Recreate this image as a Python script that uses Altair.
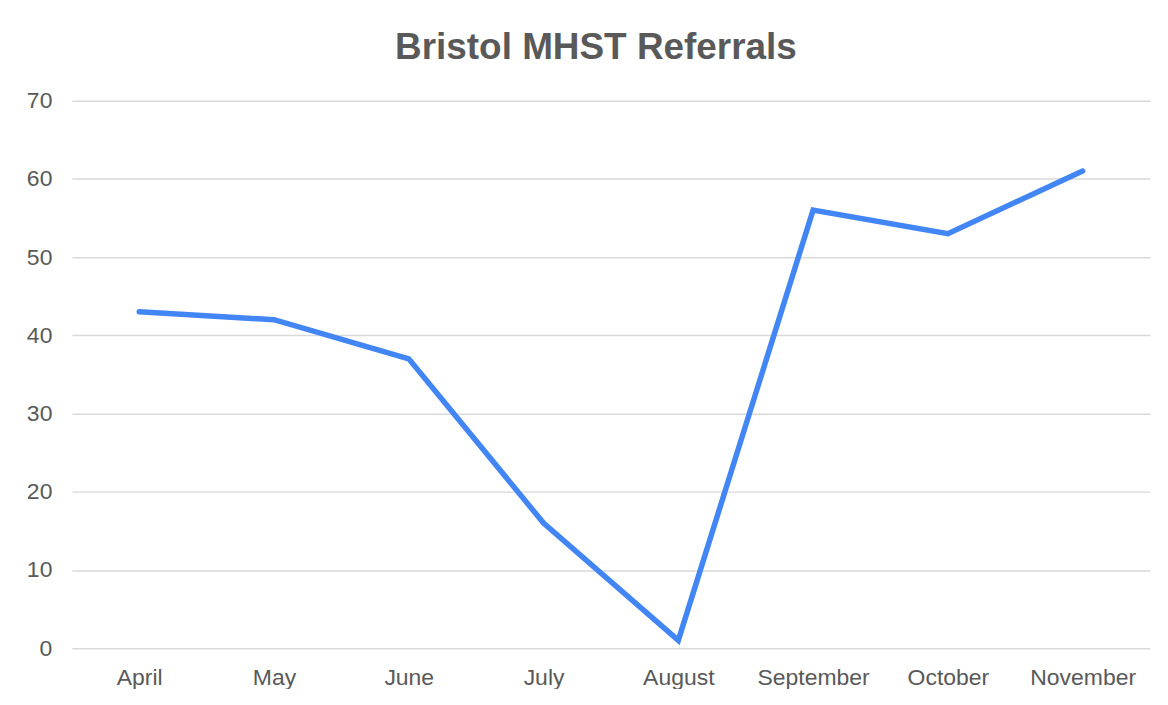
import altair as alt
import pandas as pd

months = ["April", "May", "June", "July", "August", "September", "October", "November"]
referrals = [43, 42, 37, 16, 1, 56, 53, 61]

df = pd.DataFrame({"Month": months, "Referrals": referrals})

chart = alt.Chart(df).mark_line(
    color="#4285F4", strokeWidth=5.5, strokeJoin="miter", strokeCap="round"
).encode(
    x=alt.X("Month:N", sort=months, title=None,
            scale=alt.Scale(type="point", padding=0.5),
            axis=alt.Axis(labelAngle=0, labelFontSize=23, labelColor="#595959",
                          labelFont="Liberation Sans", labelPadding=18,
                          domain=False, ticks=False, grid=False)),
    y=alt.Y("Referrals:Q", title=None,
            scale=alt.Scale(domain=[0, 70]),
            axis=alt.Axis(values=[0, 10, 20, 30, 40, 50, 60, 70],
                          labelFontSize=23, labelColor="#595959",
                          labelFont="Liberation Sans", labelPadding=20,
                          domain=False, ticks=False,
                          gridColor="#d9d9d9", gridWidth=1.5)),
).properties(
    width=1081,
    height=549,
    title=alt.TitleParams("Bristol MHST Referrals", fontSize=37, font="Liberation Sans",
                          fontWeight="bold", color="#595959", anchor="middle",
                          dx=-15, offset=23),
    autosize=alt.AutoSizeParams(type="none"),
    padding={"left": 64, "top": 92, "right": 10, "bottom": 40},
).configure_view(stroke=None)

chart.save("out.html", embed_options={"renderer": "svg", "actions": False})
